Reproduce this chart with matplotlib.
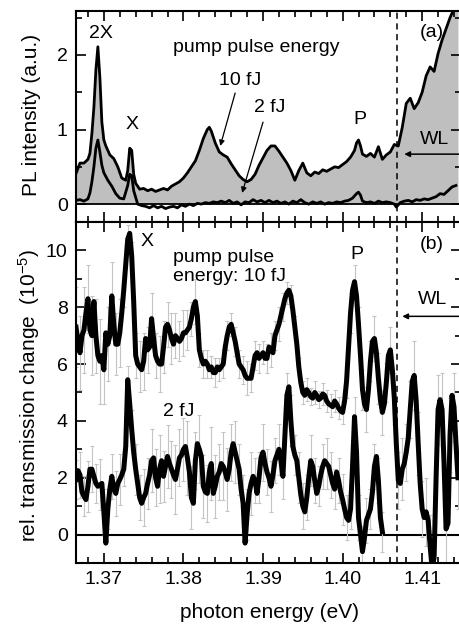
import matplotlib
matplotlib.use("Agg")
import matplotlib.pyplot as plt
from matplotlib.ticker import MultipleLocator, FormatStrFormatter
import numpy as np

plt.rcParams["font.family"] = ["Liberation Sans", "DejaVu Sans"]
plt.rcParams["mathtext.fontset"] = "custom"
plt.rcParams["mathtext.rm"] = "Liberation Sans"
plt.rcParams["mathtext.it"] = "Liberation Sans:italic"

# ---- panel (a): PL spectra ----
E_PL10 = [1.3665, 1.367, 1.3675, 1.368, 1.36825, 1.3685, 1.36875, 1.369, 1.36925, 1.3695,
          1.36975, 1.37, 1.37025, 1.3705, 1.37075, 1.37125, 1.37175, 1.37225, 1.37275, 1.373,
          1.37325, 1.3735, 1.37375, 1.374, 1.3745, 1.375, 1.3755, 1.376, 1.3765, 1.377,
          1.3775, 1.378, 1.3785, 1.379, 1.3795, 1.38, 1.3805, 1.381, 1.3815, 1.382,
          1.3825, 1.383, 1.38325, 1.3835, 1.384, 1.3845, 1.385, 1.3855, 1.386, 1.3865,
          1.387, 1.3875, 1.388, 1.3885, 1.389, 1.3895, 1.39, 1.3905, 1.391, 1.3915,
          1.392, 1.3925, 1.393, 1.3935, 1.394, 1.3945, 1.395, 1.3955, 1.396, 1.3965,
          1.397, 1.3975, 1.398, 1.3985, 1.399, 1.3995, 1.4, 1.4005, 1.401, 1.4015,
          1.40175, 1.402, 1.40225, 1.4025, 1.403, 1.4035, 1.404, 1.4045, 1.405, 1.4055,
          1.406, 1.4065, 1.407, 1.4075, 1.408, 1.4085, 1.409, 1.4095, 1.41, 1.4105,
          1.411, 1.4115, 1.412, 1.4125, 1.413, 1.4135, 1.414, 1.4145]
PL_10FJ = [0.41, 0.55, 0.55, 0.60, 0.68, 0.95, 1.30, 1.80, 2.11, 1.70,
           1.10, 0.86, 0.78, 0.72, 0.66, 0.61, 0.50, 0.35, 0.32, 0.45,
           0.75, 0.72, 0.40, 0.28, 0.20, 0.21, 0.18, 0.20, 0.17, 0.19,
           0.21, 0.19, 0.24, 0.27, 0.30, 0.35, 0.42, 0.50, 0.58, 0.72,
           0.88, 1.00, 1.03, 0.98, 0.82, 0.70, 0.66, 0.63, 0.54, 0.46,
           0.38, 0.33, 0.30, 0.33, 0.40, 0.52, 0.62, 0.72, 0.78, 0.78,
           0.71, 0.63, 0.55, 0.45, 0.32, 0.45, 0.55, 0.42, 0.38, 0.43,
           0.41, 0.46, 0.44, 0.47, 0.50, 0.49, 0.53, 0.57, 0.63, 0.72,
           0.82, 0.86, 0.78, 0.67, 0.64, 0.68, 0.63, 0.77, 0.60, 0.66,
           0.70, 0.80, 0.78, 1.03, 1.35, 1.42, 1.28, 1.36, 1.50, 1.72,
           1.84, 1.78, 2.02, 2.20, 2.35, 2.50, 2.62, 2.72]

E_PL2 = [1.3665, 1.367, 1.3675, 1.368, 1.36825, 1.3685, 1.36875, 1.369, 1.36925, 1.3695,
         1.36975, 1.37, 1.3705, 1.371, 1.3715, 1.372, 1.3725, 1.373, 1.37325, 1.3735,
         1.37375, 1.37425, 1.37475, 1.37525, 1.37575, 1.37625, 1.37675, 1.37725, 1.37775, 1.37825,
         1.37875, 1.37925, 1.37975, 1.38025, 1.38075, 1.38125, 1.38175, 1.38225, 1.38275, 1.38325,
         1.38375, 1.38425, 1.38475, 1.38525, 1.38575, 1.38625, 1.38675, 1.38725, 1.38775, 1.38825,
         1.38875, 1.38925, 1.38975, 1.39025, 1.39075, 1.39125, 1.39175, 1.39225, 1.39275, 1.39325,
         1.39375, 1.39425, 1.39475, 1.39525, 1.39575, 1.39625, 1.39675, 1.39725, 1.39775, 1.39825,
         1.39875, 1.39925, 1.39975, 1.40025, 1.40075, 1.40125, 1.40175, 1.402, 1.40225, 1.4025,
         1.403, 1.4035, 1.404, 1.4045, 1.405, 1.4055, 1.406, 1.4065, 1.40675, 1.40725,
         1.40775, 1.40825, 1.40875, 1.40925, 1.40975, 1.41025, 1.41075, 1.41125, 1.41175, 1.41225,
         1.41275, 1.41325, 1.41375, 1.41425]
PL_2FJ = [0.05, 0.06, 0.04, 0.07, 0.15, 0.30, 0.50, 0.75, 0.86, 0.70,
          0.52, 0.42, 0.32, 0.24, 0.14, 0.08, 0.07, 0.25, 0.40, 0.38,
          0.18, 0.00, -0.02, -0.03, -0.05, -0.02, -0.05, -0.03, -0.06, -0.04,
          -0.03, -0.05, -0.01, -0.03, 0.00, -0.02, 0.01, 0.00, 0.02, 0.01,
          0.03, 0.02, 0.04, 0.02, 0.05, 0.01, 0.03, -0.01, 0.03, 0.02,
          0.06, 0.03, 0.05, 0.02, 0.05, 0.02, 0.04, 0.01, 0.03, 0.00,
          0.04, 0.02, 0.06, 0.02, 0.00, 0.03, 0.01, 0.03, 0.00, 0.02,
          0.01, 0.03, 0.02, 0.04, 0.05, 0.08, 0.14, 0.16, 0.12, 0.04,
          0.02, 0.03, 0.01, 0.04, 0.02, 0.03, 0.02, 0.00, -0.04, 0.02,
          0.04, 0.05, 0.03, 0.06, 0.05, 0.07, 0.06, 0.08, 0.10, 0.14,
          0.13, 0.18, 0.23, 0.25]

# ---- panel (b): differential transmission (units of 1e-5), 0.25 meV grid ----
DT_START = 1.3665
DT_STEP = 0.00025
DT_10FJ = [7.3, 6.8, 6.4, 7.0, 7.2, 7.8, 8.3, 7.2, 7.0, 8.2,
           7.0, 6.3, 6.1, 6.3, 5.8, 7.1, 6.7, 7.0, 8.4, 7.4,
           6.7, 6.7, 7.1, 7.8, 8.6, 9.5, 10.4, 10.6, 9.8, 8.2,
           6.3, 6.0, 5.9, 5.8, 6.1, 6.9, 6.5, 6.6, 7.6, 6.9,
           6.3, 6.1, 6.0, 6.0, 6.6, 7.3, 7.4, 7.2, 6.9, 6.7,
           7.0, 6.9, 6.8, 6.9, 7.1, 7.1, 7.2, 7.3, 7.6, 8.0,
           8.2, 7.7, 6.5, 6.2, 6.0, 6.1, 6.0, 5.8, 5.9, 5.7,
           5.7, 5.9, 5.8, 5.9, 6.0, 6.6, 7.0, 7.3, 7.4, 7.1,
           6.8, 6.4, 6.0, 5.9, 5.8, 5.6, 5.5, 5.5, 5.5, 5.9,
           6.3, 6.4, 6.2, 6.3, 6.4, 6.2, 6.2, 6.6, 6.5, 6.4,
           7.0, 7.2, 7.4, 7.7, 8.0, 8.3, 8.5, 8.6, 8.4, 7.9,
           7.3, 6.7, 5.9, 5.35, 5.0, 4.9, 5.1, 5.0, 4.85, 4.8,
           5.0, 4.9, 4.75, 4.8, 4.95, 4.9, 4.7, 4.6, 4.55, 4.5,
           4.7, 4.6, 4.45, 4.35, 4.3, 4.7, 5.4, 6.6, 7.8, 8.6,
           8.9, 8.4, 7.4, 6.3, 5.1, 4.6, 4.4, 5.1, 6.1, 6.8,
           6.9, 6.4, 5.5, 4.75, 4.3, 4.6, 5.35, 6.3, 6.5, 5.8,
           4.8, 3.2, 1.9, 1.8, 2.3, 2.5, 2.9, 3.4, 4.4, 5.4,
           5.6, 4.7, 3.2, 1.8, 0.9, 0.6, 0.8, 0.5, -0.4, -1.2,
           -0.8, 2.0, 4.4, 4.75, 4.4, 2.5, 0.2, 0.4, 3.5, 4.9,
           4.5, 3.2, 2.0]
DT_2FJ = [1.94, 2.25, 2.1, 1.5, 1.35, 1.23, 1.7, 2.3, 2.3, 2.05,
          1.8, 1.7, 1.75, 1.8, 0.8, -0.3, 0.9, 1.6, 2.05, 1.6,
          1.45, 1.8, 1.94, 2.1, 2.3, 3.1, 5.45, 4.6, 3.7, 2.9,
          2.3, 1.8, 1.3, 1.1, 1.3, 1.45, 1.8, 2.1, 2.6, 2.7,
          2.0, 1.7, 2.3, 2.6, 2.05, 2.4, 2.75, 2.5, 2.3, 2.1,
          1.94, 2.3, 2.7, 2.8, 3.0, 3.1, 2.7, 2.2, 1.3, 1.1,
          2.6, 3.2, 3.0, 2.75, 1.7, 1.5, 1.45, 2.2, 2.5, 1.45,
          1.7, 2.05, 2.2, 2.5, 2.4, 2.2, 1.94, 2.3, 2.9, 3.2,
          2.9, 2.6, 2.3, 1.6, 1.1, -0.3, 0.7, 1.45, 1.8, 2.05,
          1.9, 1.45, 2.0, 2.7, 2.9, 2.5, 2.2, 2.0, 1.7, 2.1,
          2.6, 2.8, 3.0, 2.6, 2.05, 3.5, 4.9, 5.2, 4.0, 3.1,
          2.8, 2.6, 2.0, 1.4, 1.0, 0.8, 1.3, 2.0, 2.6, 2.4,
          1.9, 1.45, 1.7, 2.1, 2.4, 2.6, 2.5, 2.4, 2.1, 1.8,
          1.6, 2.2, 1.9, 1.5, 1.23, 0.9, 0.6, 0.5, 0.9, 2.4,
          4.15, 2.9, 0.6, 0.0, -0.6, -0.1, 0.5, 0.7, 0.9, 1.5,
          2.4, 2.75, 1.9, 0.6, 0.1]
# error bar half-widths, one for every second point
ERR_10FJ = [1.4, 1.3, 1.5, 1.2, 1.4, 1.3, 1.5, 1.2, 1.3, 1.2,
            1.1, 1.2, 0.6, 0.5, 0.5, 0.8, 0.9, 1.0, 0.8, 0.9,
            0.8, 1.0, 0.9, 0.8, 0.9, 0.8, 0.7, 0.8, 0.7, 0.6,
            0.8, 0.6, 0.5, 0.5, 0.4, 0.5, 0.4, 0.5, 0.5, 0.4,
            0.5, 0.5, 0.5, 0.6, 0.5, 0.5, 0.5, 0.4, 0.5, 0.6,
            0.5, 0.6, 0.5, 0.4, 0.4, 0.4, 0.3, 0.4, 0.4, 0.3,
            0.4, 0.3, 0.4, 0.4, 0.4, 0.4, 0.4, 0.4, 0.6, 0.7,
            0.6, 0.6, 0.7, 0.8, 0.7, 0.8, 0.9, 0.8, 0.7, 0.8,
            0.9, 1.0, 1.1, 1.0, 1.0, 1.2, 1.1, 1.0, 1.2, 1.1,
            1.3, 1.2, 1.3, 1.2, 1.3, 1.2, 1.1]
ERR_2FJ = [0.7, 0.8, 0.7, 0.9, 0.8, 0.7, 0.9, 0.8, 0.7, 0.8,
           0.8, 0.9, 0.6, 0.5, 0.7, 0.9, 0.8, 1.0, 0.9, 1.1,
           1.0, 1.2, 0.9, 1.1, 1.0, 1.2, 1.0, 1.1, 1.3, 1.1,
           1.0, 1.2, 1.1, 1.0, 1.3, 1.1, 1.0, 1.2, 1.1, 1.0,
           1.1, 0.9, 1.0, 0.9, 1.1, 0.8, 0.9, 1.0, 0.8, 0.9,
           0.8, 0.9, 0.8, 0.8, 0.9, 0.7, 0.9, 0.8, 0.8, 0.9,
           0.8, 0.7, 0.8, 0.9, 0.8, 0.7, 0.8, 0.9, 0.8, 0.7,
           0.7, 0.8, 0.9, 0.8, 0.7, 0.8, 0.8, 0.7]

XLIM = (1.3665, 1.41488)
E_WL_EDGE = 1.4069
FS = 14

e_dt10 = DT_START + DT_STEP * np.arange(len(DT_10FJ))
e_dt2 = DT_START + DT_STEP * np.arange(len(DT_2FJ))

fig = plt.figure(figsize=(4.59, 6.28), dpi=100)
ax_a = fig.add_axes([76 / 459, 1 - 222 / 628, 385 / 459, 211 / 628])
ax_b = fig.add_axes([76 / 459, 1 - 563 / 628, 385 / 459, 341 / 628])

# panel (a)
ax_a.fill_between(E_PL10, 0, PL_10FJ, color="#bfbfbf", linewidth=0, zorder=1)
ax_a.axhline(0, color="k", lw=1.3, zorder=2)
ax_a.plot(E_PL10, PL_10FJ, color="k", lw=2.0, zorder=3)
ax_a.plot(E_PL2, PL_2FJ, color="k", lw=2.0, zorder=3)
ax_a.set_ylim(-0.24, 2.59)
ax_a.yaxis.set_major_locator(MultipleLocator(1))
ax_a.yaxis.set_minor_locator(MultipleLocator(0.5))

ax_a.text(1.36963, 2.29, "2X", fontsize=FS, ha="center", va="center")
ax_a.text(1.37356, 1.07, "X", fontsize=FS, ha="center", va="center")
ax_a.text(1.37863, 2.10, "pump pulse energy", fontsize=FS, ha="left", va="center")
ax_a.text(1.38713, 1.66, "10 fJ", fontsize=FS, ha="center", va="center")
ax_a.text(1.39088, 1.29, "2 fJ", fontsize=FS, ha="center", va="center")
ax_a.text(1.40213, 1.13, "P", fontsize=FS, ha="center", va="center")
ax_a.text(1.41125, 2.30, "(a)", fontsize=FS, ha="center", va="center")
ax_a.text(1.4115, 0.86, "WL", fontsize=FS, ha="center", va="center")
arrow = dict(arrowstyle="-|>", color="k", lw=0.9, mutation_scale=8, shrinkA=0, shrinkB=0)
ax_a.annotate("", xy=(1.38463, 0.78), xytext=(1.38650, 1.49), arrowprops=arrow)
ax_a.annotate("", xy=(1.38738, 0.15), xytext=(1.39000, 1.10), arrowprops=arrow)
ax_a.annotate("", xy=(1.40775, 0.67), xytext=(1.4160, 0.67),
              arrowprops=dict(arrowstyle="<|-|>", color="k", lw=1.1,
                              mutation_scale=8, shrinkA=0, shrinkB=0))

# panel (b)
ax_b.axhline(0, color="k", lw=1.5, zorder=2)
ebar = dict(fmt="none", ecolor="#c4c4c4", elinewidth=0.8, capsize=1.6, capthick=0.8, zorder=2.5)
ax_b.errorbar(e_dt10[::2], np.array(DT_10FJ)[::2], yerr=ERR_10FJ, **ebar)
ax_b.errorbar(e_dt2[::2], np.array(DT_2FJ)[::2], yerr=ERR_2FJ, **ebar)
ax_b.plot(e_dt10, DT_10FJ, color="k", lw=3.6, zorder=3, solid_joinstyle="round")
ax_b.plot(e_dt2, DT_2FJ, color="k", lw=3.6, zorder=3, solid_joinstyle="round")
ax_b.set_ylim(-1, 11)
ax_b.yaxis.set_major_locator(MultipleLocator(2))
ax_b.yaxis.set_minor_locator(MultipleLocator(1))

ax_b.text(1.37538, 10.3, "X", fontsize=FS, ha="center", va="center")
ax_b.text(1.37863, 9.4, "pump pulse\nenergy: 10 fJ", fontsize=FS, ha="left", va="center",
          linespacing=1.15)
ax_b.text(1.40175, 9.86, "P", fontsize=FS, ha="center", va="center")
ax_b.text(1.41125, 10.2, "(b)", fontsize=FS, ha="center", va="center")
ax_b.text(1.41125, 8.27, "WL", fontsize=FS, ha="center", va="center")
ax_b.text(1.37938, 4.33, "2 fJ", fontsize=FS, ha="center", va="center")
ax_b.annotate("", xy=(1.40750, 7.68), xytext=(1.4160, 7.68),
              arrowprops=dict(arrowstyle="<|-|>", color="k", lw=1.1,
                              mutation_scale=8, shrinkA=0, shrinkB=0))

for ax in (ax_a, ax_b):
    ax.axvline(E_WL_EDGE, color="k", lw=1.1, ls=(0, (4, 3)), zorder=5)
    ax.set_xlim(*XLIM)
    ax.xaxis.set_major_locator(MultipleLocator(0.01))
    ax.xaxis.set_minor_locator(MultipleLocator(0.002))
    ax.xaxis.set_major_formatter(FormatStrFormatter("%.2f"))
    ax.tick_params(which="both", direction="in", top=True, right=True, width=1.2,
                   labelsize=FS)
    ax.tick_params(which="major", length=7, pad=6)
    ax.tick_params(which="minor", length=4)
    for spine in ax.spines.values():
        spine.set_linewidth(1.5)
ax_a.tick_params(labelbottom=False)

fig.text(32 / 459, 1 - 115 / 628, "PL intensity (a.u.)", rotation=90,
         ha="center", va="center", fontsize=15)
fig.text(29 / 459, 1 - 395 / 628, "rel. transmission change  (10$^{-5}$)", rotation=90,
         ha="center", va="center", fontsize=15)
fig.text(269 / 459, 1 - 612 / 628, "photon energy (eV)", ha="center", va="center",
         fontsize=15)

fig.savefig("out.png", dpi=100)
